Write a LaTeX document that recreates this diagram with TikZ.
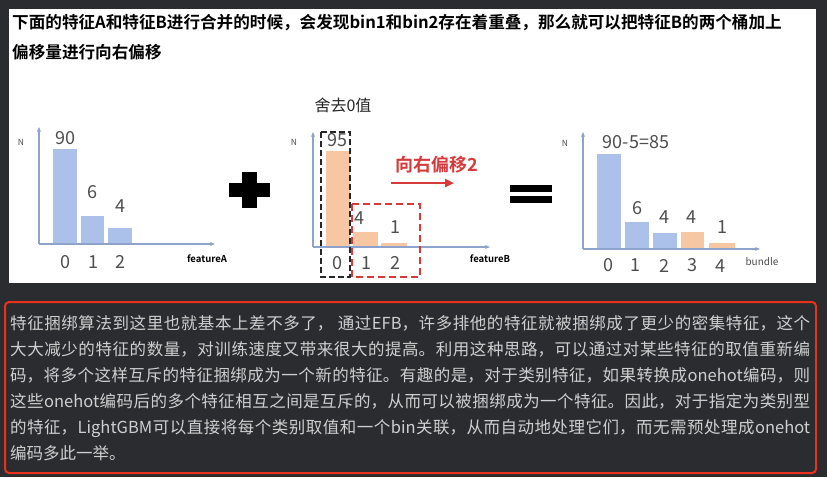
\documentclass[tikz,border=0pt]{standalone}
\usepackage{fontspec}
\usetikzlibrary{arrows.meta}
\setmainfont{Noto Sans CJK SC}
\newfontfamily\cjk{Noto Sans CJK SC}
\newfontfamily\cjkb{Noto Sans CJK SC Bold}
\XeTeXlinebreaklocale "zh"
\XeTeXlinebreakskip=0pt plus 1.5pt
\definecolor{bgdark}{HTML}{2B2C2F}
\definecolor{barblue}{HTML}{ABC1E9}
\definecolor{barorange}{HTML}{F7C7A4}
\definecolor{axisblue}{HTML}{8EA3CC}
\definecolor{numgray}{HTML}{4E4E4E}
\definecolor{darkred}{HTML}{D63A3A}
\definecolor{boxred}{HTML}{E8321C}
\definecolor{textlight}{HTML}{CFCFCF}
\tikzset{
  axisline/.style={draw=axisblue, line width=1.2pt, -{Stealth[length=5pt,width=4pt]}},
  bluebar/.style={fill=barblue, draw=none},
  orangebar/.style={fill=barorange, draw=none},
  num/.style={inner sep=0pt, text=numgray, font=\cjk\fontsize{18}{18}\selectfont},
  nlab/.style={inner sep=0pt, text=numgray, font=\cjk\fontsize{8.5}{9}\selectfont},
  featlab/.style={inner sep=0pt, text=black, font=\cjkb\fontsize{9.5}{10}\selectfont},
}
\begin{document}
\begin{tikzpicture}[x=1pt,y=-1pt]
\fill[bgdark] (0,0) rectangle (827,477);
\useasboundingbox (0,0) rectangle (827,477);
\fill[white] (9,9) rectangle (816,283);

% title
\node[anchor=base west, inner sep=0pt, font=\cjkb\fontsize{16.6}{20}\selectfont, text=black] (t1) at (12,28.5)
  {下面的特征A和特征B进行合并的时候，会发现bin1和bin2存在着重叠，那么就可以把特征B的两个桶加上};
\node[anchor=base west, inner sep=0pt, font=\cjkb\fontsize{16.6}{20}\selectfont, text=black] (t2) at (12,58.5)
  {偏移量进行向右偏移};

% ---------- chart A ----------
\coordinate (ao) at (39,244);
\coordinate (ay) at (39,127);
\coordinate (ax) at (215,244);
\fill[bluebar] (53,149) rectangle (77,244);
\fill[bluebar] (81,216) rectangle (104,244);
\fill[bluebar] (108,228) rectangle (132,244);
\draw[axisline] (ao) -- (ay);
\draw[axisline] (ao) -- (ax);
\node[nlab] (an) at (21,142) {N};
\node[num] (a90) at (65,138) {90};
\node[num] (a6) at (92,192) {6};
\node[num] (a4) at (120,206) {4};
\node[num] (at0) at (65,262) {0};
\node[num] (at1) at (93,262) {1};
\node[num] (at2) at (120,262) {2};
\node[featlab] (afeat) at (207,259) {featureA};

% plus sign
\fill[black] (229,183) rectangle (270,197);
\fill[black] (242,172) rectangle (257,208);

% ---------- chart B ----------
\coordinate (bo) at (313,247);
\coordinate (by) at (313,132);
\coordinate (bx) at (490,247);
\fill[orangebar] (326,151) rectangle (350,247);
\fill[orangebar] (353,232) rectangle (378,247);
\fill[orangebar] (381,243) rectangle (407,247);
\draw[axisline] (bo) -- (by);
\draw[axisline] (bo) -- (bx);
\node[nlab] (bn) at (294,142) {N};
\node[num] (b95) at (337,140) {95};
\node[num] (b4) at (359,218) {4};
\node[num] (b1) at (395,227) {1};
\node[num] (bt0) at (337,263) {0};
\node[num] (bt1) at (366,263) {1};
\node[num] (bt2) at (395,263) {2};
\node[featlab] (bfeat) at (490,259) {featureB};
\draw[black!85, line width=2.2pt, dash pattern=on 6pt off 3pt] (321,132) rectangle (350,277);
\draw[darkred, line width=2pt, dash pattern=on 7pt off 4pt] (352,204) rectangle (420,277);
\node[inner sep=0pt, text=black!85, font=\cjk\fontsize{16}{16}\selectfont] (drop) at (343,105) {舍去0值};
\node[inner sep=0pt, text=darkred, font=\cjkb\fontsize{18}{18}\selectfont] (shift) at (437,165) {向右偏移2};
\coordinate (sa) at (391,183);
\coordinate (sb) at (454,183);
\draw[darkred, line width=2.6pt, -{Triangle[length=9pt,width=8pt]}] (sa) -- (sb);

% equals sign
\fill[black] (510,185) rectangle (552,191.5);
\fill[black] (510,196) rectangle (552,203);

% ---------- chart C ----------
\coordinate (co) at (583,249);
\coordinate (cy) at (583,132);
\coordinate (cx) at (760,249);
\fill[bluebar] (597,154) rectangle (621,249);
\fill[bluebar] (625,222) rectangle (649,249);
\fill[bluebar] (653,233) rectangle (677,249);
\fill[orangebar] (681,232) rectangle (704,249);
\fill[orangebar] (709,243) rectangle (735,249);
\draw[axisline] (co) -- (cy);
\draw[axisline] (co) -- (cx);
\node[nlab] (cn) at (565,143) {N};
\node[num] (c85) at (636,142) {90-5=85};
\node[num] (c6) at (637,208) {6};
\node[num] (c4a) at (664,217) {4};
\node[num] (c4b) at (691,217) {4};
\node[num] (c1) at (722,227) {1};
\node[num] (ct0) at (608,265) {0};
\node[num] (ct1) at (635,265) {1};
\node[num] (ct2) at (664,266) {2};
\node[num] (ct3) at (692,265) {3};
\node[num] (ct4) at (720,266) {4};
\node[inner sep=0pt, text=numgray, font=\cjk\fontsize{10}{10}\selectfont] (cfeat) at (762,262) {bundle};

% ---------- bottom text box ----------
\draw[boxred, line width=2pt, rounded corners=4pt] (5,302) rectangle (816,473);
\node[anchor=base west, inner sep=0pt, text width=800pt, align=justify, text=textlight,
      font=\cjk\fontsize{16.5}{26}\selectfont] (para) at (10,329.5)
{特征捆绑算法到这里也就基本上差不多了， 通过EFB，许多排他的特征就被捆绑成了更少的密集特征，这个\linebreak
大大减少的特征的数量，对训练速度又带来很大的提高。利用这种思路，可以通过对某些特征的取值重新编\linebreak
码，将多个这样互斥的特征捆绑成为一个新的特征。有趣的是，对于类别特征，如果转换成onehot编码，则\linebreak
这些onehot编码后的多个特征相互之间是互斥的，从而可以被捆绑成为一个特征。因此，对于指定为类别型\linebreak
的特征，LightGBM可以直接将每个类别取值和一个bin关联，从而自动地处理它们，而无需预处理成onehot\linebreak
编码多此一举。};
\end{tikzpicture}
\end{document}
